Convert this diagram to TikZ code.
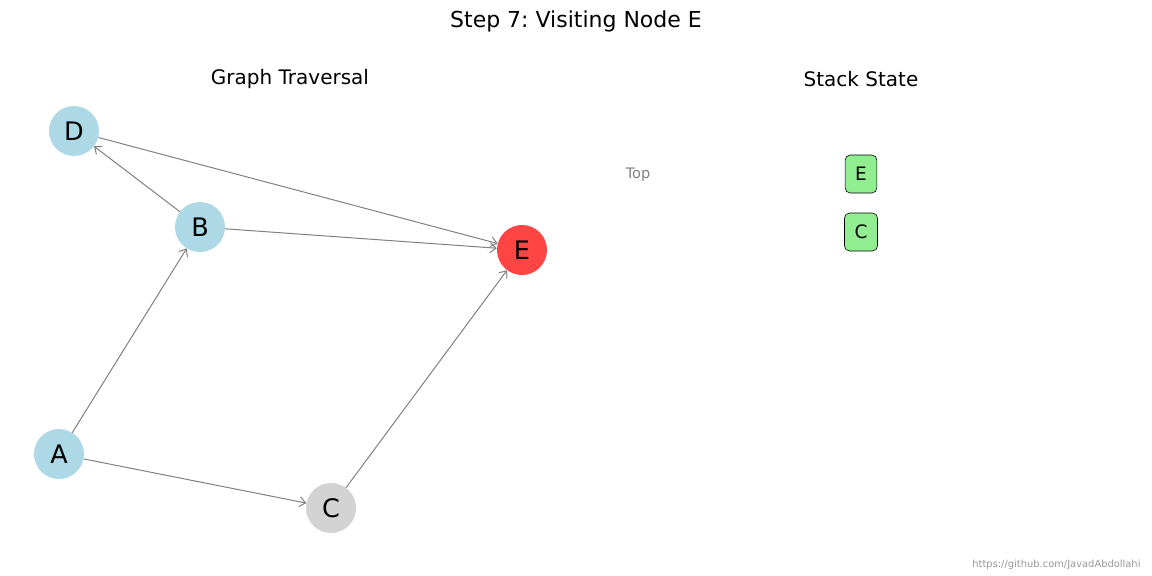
\documentclass[tikz,border=0pt]{standalone}
\usepackage{fontspec}
\setmainfont{DejaVu Sans}
\usetikzlibrary{arrows.meta}
\definecolor{visited}{RGB}{173,216,230}
\definecolor{unvisited}{RGB}{211,211,211}
\definecolor{current}{RGB}{255,68,68}
\definecolor{stackfill}{RGB}{144,238,144}
\definecolor{edgegray}{RGB}{128,128,128}
\frenchspacing
\begin{document}
\begin{tikzpicture}[x=1pt,y=-1pt,
  vertex/.style={circle, minimum size=50pt, inner sep=0pt, font=\fontsize{25.5}{25.5}\selectfont},
  link/.style={draw=edgegray, line width=1pt, -{Straight Barb[length=6pt,width=10pt,line width=1pt]}},
  stackitem/.style={draw=black, line width=0.6pt, fill=stackfill, rounded corners=5pt,
    minimum height=38pt, inner xsep=10pt, font=\fontsize{18.5}{18.5}\selectfont},
  heading/.style={font=\fontsize{20}{20}\selectfont},
]
\useasboundingbox (0,0) rectangle (1152,576);

% titles
\node[font=\fontsize{22}{22}\selectfont] (title) at (576,21) {Step 7: Visiting Node E};
\node[heading] (lefttitle) at (290,79) {Graph Traversal};
\node[heading] (righttitle) at (861,79) {Stack State};

% graph vertices
\node[vertex, fill=visited] (D) at (74,131) {D};
\node[vertex, fill=visited] (B) at (200,227) {B};
\node[vertex, fill=current] (E) at (522,250) {E};
\node[vertex, fill=visited] (A) at (59,454) {A};
\node[vertex, fill=unvisited] (C) at (331,508) {C};

% directed edges
\draw[link] (A) -- (B);
\draw[link] (A) -- (C);
\draw[link] (B) -- (D);
\draw[link] (B) -- (E);
\draw[link] (D) -- (E);
\draw[link] (C) -- (E);

% stack contents, top first
\node[font=\fontsize{14.5}{14.5}\selectfont, text=edgegray] (toplabel) at (638,175) {Top};
\node[stackitem] (sE) at (861,174) {E};
\node[stackitem] (sC) at (861,232) {C};

% credit line
\node[font=\fontsize{9.9}{9.9}\selectfont, text=black!40, anchor=east] (credit) at (1144,565) {https://github.com/JavadAbdollahi};
\end{tikzpicture}
\end{document}
